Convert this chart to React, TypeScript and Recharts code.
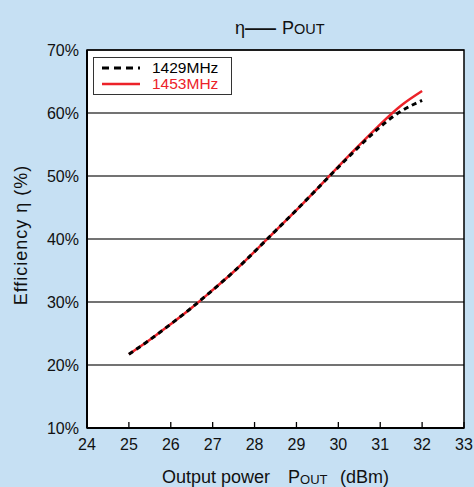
import { CartesianGrid, Line, LineChart, ReferenceArea, XAxis, YAxis } from "recharts";

const power = [25, 25.5, 26, 26.5, 27, 27.5, 28, 28.5, 29, 29.5, 30, 30.5, 31, 31.5, 32];
const eff1429 = [21.7, 24.0, 26.5, 29.1, 31.9, 34.8, 38.0, 41.3, 44.6, 48.0, 51.4, 54.7, 57.8, 60.3, 62.0];
const eff1453 = [21.7, 24.0, 26.5, 29.1, 31.9, 34.8, 38.0, 41.3, 44.6, 48.0, 51.5, 54.9, 58.2, 61.2, 63.5];
const xTicks = [24, 25, 26, 27, 28, 29, 30, 31, 32, 33];
const yTicks = [10, 20, 30, 40, 50, 60, 70];

const data = power.map((p, i) => ({ p, a: eff1429[i], b: eff1453[i] }));

const FONT = '"Liberation Sans", Arial, sans-serif';
const RED = "#ec2229";

function LegendBox() {
  return (
    <div
      style={{
        position: "absolute",
        left: 93,
        top: 57,
        width: 139,
        height: 38,
        border: "1px solid #333",
        background: "#fff",
        fontFamily: FONT,
        fontSize: 15.5,
        lineHeight: "16px",
        boxSizing: "border-box",
        paddingTop: 2,
      }}
    >
      <div style={{ display: "flex", alignItems: "center", height: 16 }}>
        <svg width={58} height={16}>
          <line x1={8} x2={46} y1={8} y2={8} stroke="#000" strokeWidth={3} strokeDasharray="7 5" />
        </svg>
        <span style={{ color: "#000" }}>1429MHz</span>
      </div>
      <div style={{ display: "flex", alignItems: "center", height: 16 }}>
        <svg width={58} height={16}>
          <line x1={8} x2={46} y1={8} y2={8} stroke={RED} strokeWidth={2.5} />
        </svg>
        <span style={{ color: RED }}>1453MHz</span>
      </div>
    </div>
  );
}

export default function App() {
  return (
    <div style={{ position: "relative", width: 474, height: 487, background: "#c6e0f3", overflow: "hidden" }}>
      <style>{"body{margin:0}"}</style>
      <LineChart width={474} height={487} data={data} margin={{ top: 50, right: 10, bottom: 0, left: 0 }}>
        <CartesianGrid vertical={false} stroke="#444" strokeWidth={1.4} fill="#fff" fillOpacity={1} />
        <XAxis
          dataKey="p"
          type="number"
          domain={[24, 33]}
          ticks={xTicks}
          height={59}
          tickSize={-6}
          tickMargin={17}
          axisLine={{ stroke: "#000", strokeWidth: 2 }}
          tickLine={{ stroke: "#000", strokeWidth: 1.3 }}
          tick={{ fill: "#111", fontSize: 16, fontFamily: FONT }}
          interval={0}
        />
        <YAxis
          type="number"
          domain={[10, 70]}
          ticks={yTicks}
          width={87}
          tickSize={0}
          tickMargin={8}
          tickLine={false}
          axisLine={{ stroke: "#000", strokeWidth: 2 }}
          tick={{ fill: "#111", fontSize: 16, fontFamily: FONT }}
          tickFormatter={(v) => `${v}%`}
          interval={0}
        />
        <ReferenceArea x1={24} x2={33} y1={10} y2={70} fill="none" stroke="#000" strokeWidth={1.5} />
        <Line
          type="natural"
          dataKey="b"
          name="1453MHz"
          stroke={RED}
          strokeWidth={2.5}
          dot={false}
          isAnimationActive={false}
        />
        <Line
          type="natural"
          dataKey="a"
          name="1429MHz"
          stroke="#000"
          strokeWidth={3}
          strokeDasharray="5 4"
          dot={false}
          isAnimationActive={false}
        />
      </LineChart>
      <LegendBox />
      <svg
        width={474}
        height={487}
        style={{ position: "absolute", left: 0, top: 0, pointerEvents: "none" }}
        fontFamily={FONT}
      >
        <text x={235} y={34} fontSize={18} fill="#111">
          <tspan>η</tspan>
          <tspan textLength={31} lengthAdjust="spacingAndGlyphs" fontWeight={700}>—</tspan>
          <tspan dx={6}>P</tspan>
          <tspan fontSize={14.5}>OUT</tspan>
        </text>
        <text x={162} y={483} fontSize={18} fill="#111">
          <tspan>Output power</tspan>
          <tspan x={288}>P</tspan>
          <tspan fontSize={13} dy={1}>OUT</tspan>
          <tspan x={340} dy={-1}>(dBm)</tspan>
        </text>
        <text
          x={0}
          y={0}
          fontSize={18}
          fill="#111"
          textAnchor="middle"
          letterSpacing={1}
          transform="translate(27 235) rotate(-90)"
        >
          Efficiency η (%)
        </text>
      </svg>
    </div>
  );
}
